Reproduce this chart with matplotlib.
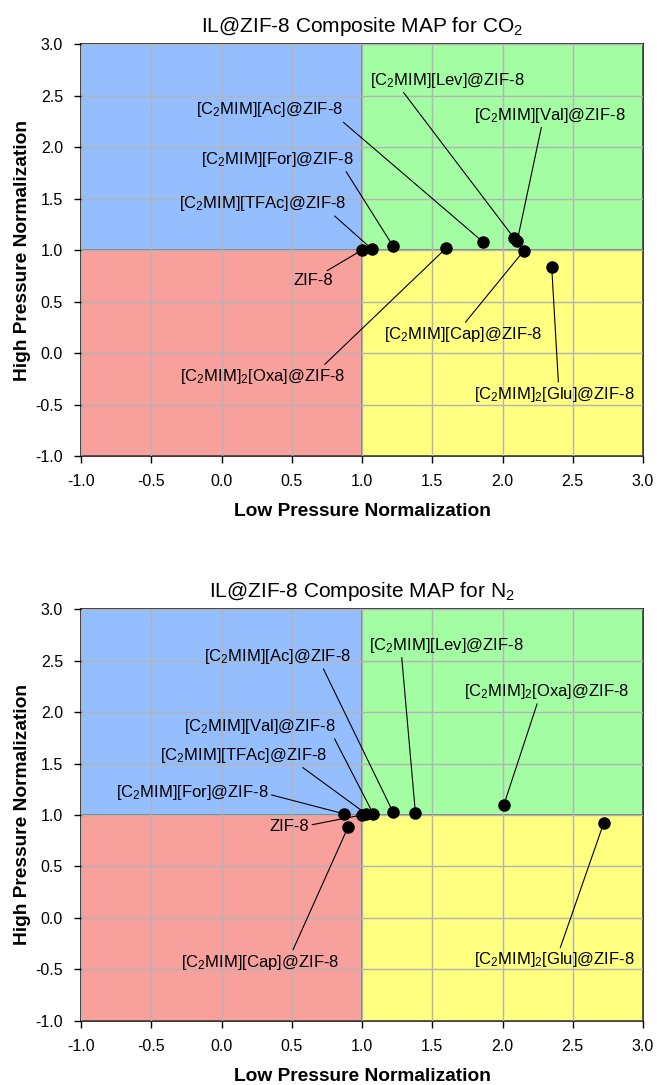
import numpy as np
import matplotlib
matplotlib.use("Agg")
from matplotlib import pyplot as plt

plt.rcParams['font.family'] = ['Liberation Sans', 'DejaVu Sans']
plt.rcParams['mathtext.fontset'] = 'custom'
plt.rcParams['mathtext.rm'] = 'Liberation Sans'
plt.rcParams['mathtext.it'] = 'Liberation Sans:italic'
plt.rcParams['axes.unicode_minus'] = False

# ---- data ----
co2_names = ['ZIF-8', '[C$_2$MIM][TFAc]@ZIF-8', '[C$_2$MIM][For]@ZIF-8',
             '[C$_2$MIM]$_2$[Oxa]@ZIF-8', '[C$_2$MIM][Ac]@ZIF-8',
             '[C$_2$MIM][Lev]@ZIF-8', '[C$_2$MIM][Val]@ZIF-8',
             '[C$_2$MIM][Cap]@ZIF-8', '[C$_2$MIM]$_2$[Glu]@ZIF-8']
co2_low = [1.00, 1.07, 1.22, 1.60, 1.86, 2.08, 2.105, 2.15, 2.35]
co2_high = [1.00, 1.01, 1.04, 1.02, 1.08, 1.12, 1.09, 0.99, 0.84]

n2_names = ['ZIF-8', '[C$_2$MIM][TFAc]@ZIF-8', '[C$_2$MIM][Val]@ZIF-8',
            '[C$_2$MIM][For]@ZIF-8', '[C$_2$MIM][Ac]@ZIF-8',
            '[C$_2$MIM][Lev]@ZIF-8', '[C$_2$MIM]$_2$[Oxa]@ZIF-8',
            '[C$_2$MIM][Cap]@ZIF-8', '[C$_2$MIM]$_2$[Glu]@ZIF-8']
n2_low = [1.00, 1.03, 1.08, 0.874, 1.22, 1.38, 2.01, 0.90, 2.72]
n2_high = [1.00, 1.01, 1.01, 1.01, 1.03, 1.02, 1.10, 0.88, 0.92]

ticks = np.arange(-1.0, 3.01, 0.5)

# label layout: (text x, text y, ha, relpos of leader line on text box)
co2_labels = [(0.65, 0.70, 'center', (0.68, 0.9)),
              (0.89, 1.45, 'right', (0.91, 0.0)),
              (0.94, 1.88, 'right', (0.94, 0.0)),
              (0.29, -0.23, 'center', (0.86, 1.0)),
              (0.865, 2.36, 'right', (0.98, 0.0)),
              (1.06, 2.65, 'left', (0.2, 0.0)),
              (1.80, 2.31, 'left', (0.445, 0.0)),
              (1.72, 0.18, 'center', (0.5, 1.0)),
              (2.37, -0.40, 'center', (0.525, 1.0))]
n2_labels = [(0.484, 0.885, 'center', (1.0, 0.6)),
             (0.754, 1.58, 'right', (0.83, 0.0)),
             (0.816, 1.86, 'right', (0.98, 0.0)),
             (0.336, 1.22, 'right', (1.0, 0.4)),
             (0.925, 2.54, 'right', (0.8, 0.0)),
             (1.05, 2.65, 'left', (0.21, 0.0)),
             (2.90, 2.20, 'right', (0.45, 0.0)),
             (0.275, -0.43, 'center', (0.7, 1.0)),
             (2.37, -0.41, 'center', (0.53, 1.0))]


def draw_map(ax, title, names, xs, ys, labels):
    # quadrant backgrounds
    ax.fill_between([-1, 1], 1, 3, color='#95BEFF', zorder=0)
    ax.fill_between([1, 3], 1, 3, color='#A3FDA3', zorder=0)
    ax.fill_between([-1, 1], -1, 1, color='#F8A09C', zorder=0)
    ax.fill_between([1, 3], -1, 1, color='#FFFF80', zorder=0)
    ax.set_xlim(-1, 3)
    ax.set_ylim(-1, 3)
    ax.set_xticks(ticks)
    ax.set_yticks(ticks)
    ax.set_xticklabels(['%.1f' % t for t in ticks])
    ax.set_yticklabels(['%.1f' % t for t in ticks])
    ax.grid(True, color='#B4B4B4', lw=1.0, zorder=1)
    ax.set_axisbelow(False)
    ax.axvline(1, color='#7F7F7F', lw=1.4, zorder=2)
    ax.axhline(1, color='#7F7F7F', lw=1.4, zorder=2)
    ax.tick_params(direction='out', length=5, width=1, labelsize=11.5, pad=8,
                   top=False, right=False)
    for sp in ax.spines.values():
        sp.set_linewidth(1.2)
        sp.set_color('#222222')
    ax.set_title(title, fontsize=15, pad=9)
    ax.set_xlabel('Low Pressure Normalization', fontsize=13.8, fontweight='bold', labelpad=10)
    ax.set_ylabel('High Pressure Normalization', fontsize=13.8, fontweight='bold', labelpad=3)

    ax.scatter(xs, ys, s=64, color='black', zorder=5, clip_on=False)
    for name, x, y, (tx, ty, ha, rp) in zip(names, xs, ys, labels):
        ax.annotate(name, xy=(x, y), xytext=(tx, ty), ha=ha, va='center',
                    fontsize=12, zorder=4,
                    arrowprops=dict(arrowstyle='-', color='black', lw=0.8,
                                    shrinkA=0, shrinkB=0, relpos=rp))


fig = plt.figure(figsize=(6.57, 10.85), dpi=100)
ax1 = fig.add_axes([0.1233, 0.5797, 0.8554, 0.3797])
ax2 = fig.add_axes([0.1233, 0.0593, 0.8554, 0.3792])

draw_map(ax1, 'IL@ZIF-8 Composite MAP for CO$_2$', co2_names, co2_low, co2_high, co2_labels)
draw_map(ax2, 'IL@ZIF-8 Composite MAP for N$_2$', n2_names, n2_low, n2_high, n2_labels)

fig.savefig('out.png', dpi=100)
